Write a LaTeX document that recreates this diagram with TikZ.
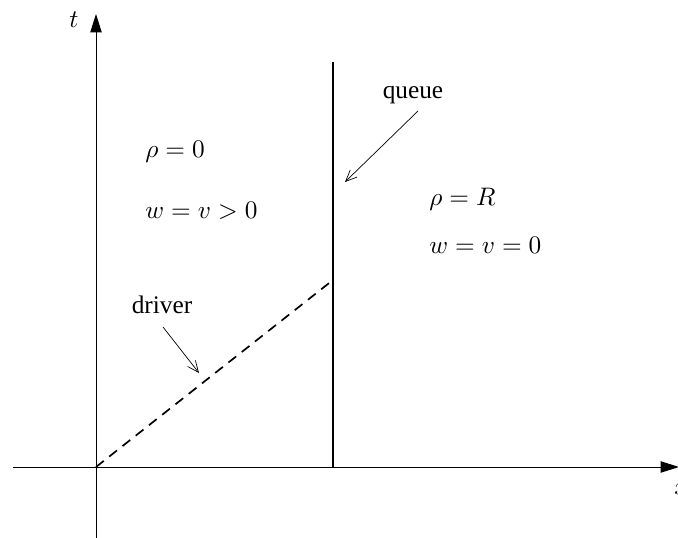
\documentclass[tikz,border=0pt]{standalone}
\usepackage{fontspec}
\setmainfont{Liberation Serif}
\usetikzlibrary{arrows.meta,positioning}
\newcommand{\bigmath}[1]{\scalebox{1.8}{$#1$}}

\begin{document}
\begin{tikzpicture}[x=0.025cm,y=-0.025cm,
  axis/.style={line width=0.7pt,-{Triangle[length=13pt,width=8pt]}},
  pointer/.style={line width=0.5pt,-{Straight Barb[length=8pt,width=7pt]}},
  lbl/.style={font=\fontsize{18}{21}\selectfont,inner sep=0pt},
  mlbl/.style={inner sep=0pt,anchor=base west}]
\useasboundingbox (0,0) rectangle (678,538);
% Axes
\coordinate (O) at (96,467);
\coordinate (tbot) at (96,538);
\coordinate (tend) at (96,14);
\coordinate (xleft) at (13,467);
\coordinate (xend) at (679,467);
\draw[axis] (tbot) -- (tend);
\draw[axis] (xleft) -- (xend);
\node[mlbl] (tlab) at (69,28) {\bigmath{t}};
\node[mlbl] (xlab) at (674,494) {\bigmath{x}};

% Queue and driver paths
\coordinate (qtop) at (333,62);
\coordinate (qbot) at (333,467);
\coordinate (dend) at (333,280);
\draw[line width=2pt] (qtop) -- (qbot);
\draw[line width=1.2pt,dash pattern=on 7pt off 5pt] (O) -- (dend);

% Labels with pointers
\node[lbl] (qlab) at (413,95) {queue};
\coordinate (qstart) at (418,111);
\coordinate (qtip) at (345,182);
\draw[pointer] (qstart) -- (qtip);
\node[lbl] (dlab) at (162,305) {driver};
\coordinate (dstart) at (163,327);
\coordinate (dtip) at (199,373);
\draw[pointer] (dstart) -- (dtip);

% Region states
\node[mlbl] (rho0) at (145,158) {\bigmath{\rho=0}};
\node[mlbl] (wv0) at (145,219) {\bigmath{w=v>0}};
\node[mlbl] (rhoR) at (429,206) {\bigmath{\rho=R}};
\node[mlbl] (wvR) at (429,253) {\bigmath{w=v=0}};
\end{tikzpicture}
\end{document}
